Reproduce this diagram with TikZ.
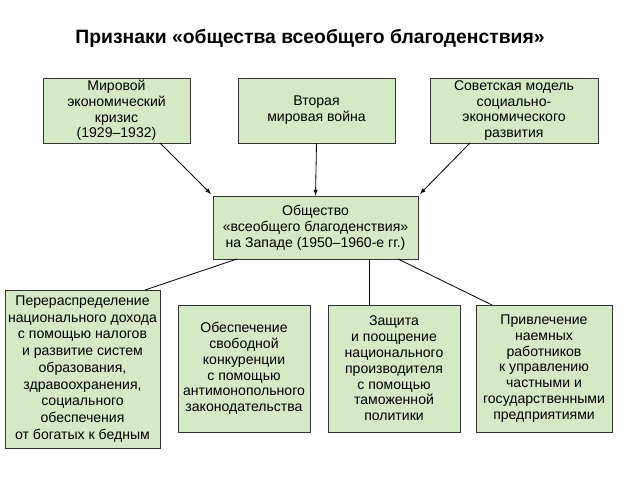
\documentclass[tikz,border=0pt]{standalone}
\usepackage{fontspec}
\setmainfont{Liberation Sans}
\usetikzlibrary{calc}
\begin{document}
\begin{tikzpicture}[x=0.03cm,y=-0.03cm,
 box/.style={draw=black!80,line width=0.7pt,align=center,font=\fontsize{12}{13.5}\selectfont,inner sep=0pt},
 arr/.style={-latex,line width=0.7pt},
 ln/.style={line width=0.7pt}]
\useasboundingbox (0,0) rectangle (640,480);
\definecolor{bf}{HTML}{D6E9C6}
\tikzset{box/.append style={fill=bf}}
\node[font=\bfseries\fontsize{16.5}{18}\selectfont] (title) at (310,38) {Признаки «общества всеобщего благоденствия»};
\node[box,minimum width=147*0.03cm,minimum height=65*0.03cm] (t1) at (116.5,110.5) {Мировой\\экономический\\кризис\\(1929–1932)};
\node[box,minimum width=157*0.03cm,minimum height=65*0.03cm] (t2) at (316.5,110.5) {Вторая\\мировая война};
\node[box,minimum width=168*0.03cm,minimum height=65*0.03cm] (t3) at (514,110.5) {Советская модель\\социально-\\экономического\\развития};
\node[box,minimum width=205*0.03cm,minimum height=63*0.03cm] (c) at (315.5,227.5) {Общество\\«всеобщего благоденствия»\\на Западе (1950–1960-е гг.)};
\node[box,minimum width=155*0.03cm,minimum height=158*0.03cm,font=\fontsize{12}{14.3}\selectfont] (b1) at (82.5,369) {Перераспределение\\национального дохода\\с помощью налогов\\и развитие систем\\образования,\\здравоохранения,\\социального\\обеспечения\\от богатых к бедным};
\node[box,minimum width=132*0.03cm,minimum height=127*0.03cm] (b2) at (244,368.5) {Обеспечение\\свободной\\конкуренции\\с помощью\\антимонопольного\\законодательства};
\node[box,minimum width=132*0.03cm,minimum height=127*0.03cm] (b3) at (394,368.5) {Защита\\и поощрение\\национального\\производителя\\с помощью\\таможенной\\политики};
\node[box,minimum width=136*0.03cm,minimum height=127*0.03cm] (b4) at (544,368.5) {Привлечение\\наемных\\работников\\к управлению\\частными и\\государственными\\предприятиями};
\coordinate (s1) at (160,143); \coordinate (e1) at (211,194);
\coordinate (s3) at (470,143); \coordinate (e3) at (420,194);
\coordinate (cl) at (237,259); \coordinate (cr) at (398,259); \coordinate (cm) at (369,259);
\coordinate (d1) at (145,290); \coordinate (d3) at (369,305); \coordinate (d4) at (492,305);
\draw[arr] (s1) -- (e1);
\draw[arr] (t2.south) -- (c.north);
\draw[arr] (s3) -- (e3);
\draw[ln] (cl) -- (d1);
\draw[ln] (cm) -- (d3);
\draw[ln] (cr) -- (d4);
\end{tikzpicture}
\end{document}
